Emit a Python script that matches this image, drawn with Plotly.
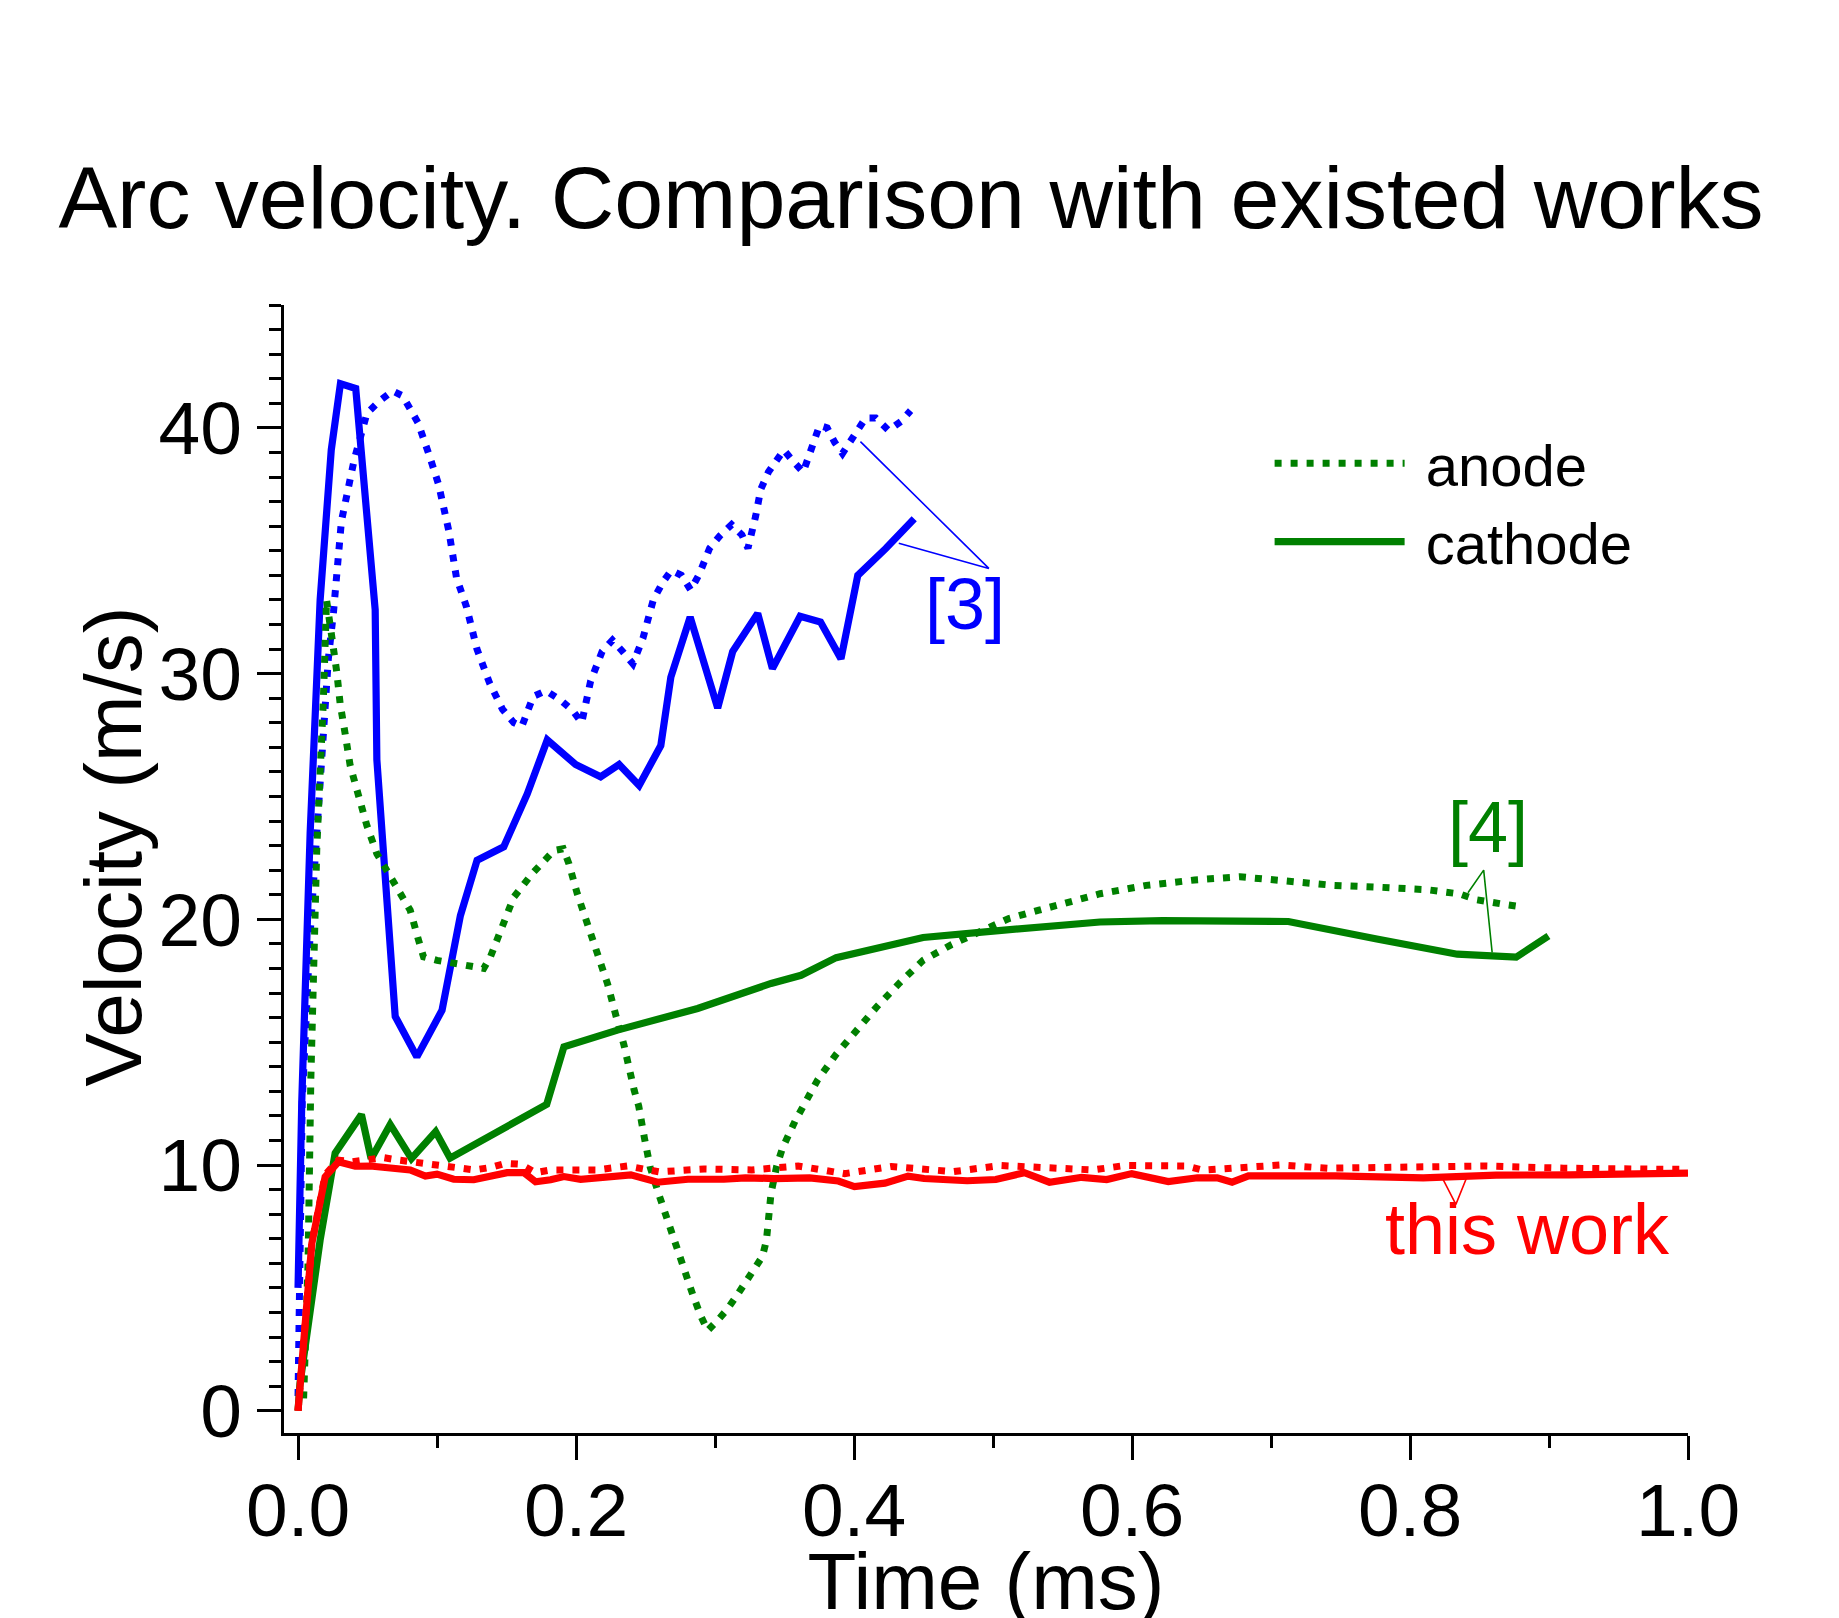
import plotly.graph_objects as go

# ---------------- data ----------------
# [3] cathode (blue solid)
t_b_cath = [0.0, 0.0027, 0.0087, 0.0159, 0.0239, 0.0305, 0.0415, 0.0555, 0.0567, 0.0699, 0.0855,
            0.1036, 0.1168, 0.1288, 0.148, 0.1649, 0.1793, 0.1997, 0.2177, 0.231, 0.2454, 0.261,
            0.2682, 0.2821, 0.3019, 0.3127, 0.3307, 0.3413, 0.3612, 0.3759, 0.3906, 0.4027, 0.423, 0.4433]
v_b_cath = [5.0, 12.6, 23.5, 33.0, 39.1, 41.8, 41.6, 32.6, 26.5, 16.05, 14.4,
            16.3, 20.15, 22.4, 22.95, 25.1, 27.3, 26.3, 25.8, 26.3, 25.45, 27.07,
            29.85, 32.3, 28.6, 30.9, 32.45, 30.2, 32.33, 32.1, 30.6, 34.0, 35.1, 36.3]

# [3] anode (blue dotted)
t_b_an = [0.0, 0.003, 0.0087, 0.0147, 0.0182, 0.0218, 0.0255, 0.0312, 0.0404, 0.0496, 0.0588, 0.068,
          0.0753, 0.0864, 0.0949, 0.1011, 0.1085, 0.114, 0.1213, 0.1287, 0.1379, 0.1471, 0.1552,
          0.161, 0.1692, 0.1784, 0.1894, 0.1975, 0.2041, 0.2105, 0.2188, 0.2262, 0.2335, 0.2409,
          0.2482, 0.2556, 0.2622, 0.2685, 0.2758, 0.2825, 0.2887, 0.2961, 0.3034, 0.3119, 0.3193,
          0.3237, 0.3292, 0.3329, 0.3384, 0.3495, 0.3568, 0.3634, 0.3678, 0.3752, 0.3807, 0.3862,
          0.3917, 0.3972, 0.4083, 0.4156, 0.4248, 0.434, 0.4407]
v_b_an = [0.6, 12.6, 19.4, 24.8, 28.1, 30.6, 32.5, 36.2, 38.7, 40.6, 41.1, 41.5,
          41.3, 40.2, 38.8, 37.7, 35.8, 33.9, 32.7, 31.0, 29.6, 28.55, 28.0,
          27.85, 29.07, 29.3, 28.9, 28.5, 28.0, 29.7, 30.9, 31.36, 30.9, 30.4,
          31.45, 33.0, 33.7, 34.2, 34.0, 33.4, 34.05, 35.1, 35.6, 36.06, 35.65,
          35.1, 36.4, 37.5, 38.2, 39.1, 38.6, 38.2, 38.9, 40.1, 40.0, 39.4,
          38.96, 39.4, 40.4, 40.4, 39.9, 40.27, 40.7]

# [4] anode (green dotted)
t_g_an = [0.004, 0.0072, 0.0092, 0.011, 0.0135, 0.0182, 0.0205, 0.0279, 0.0303, 0.0339, 0.0375,
          0.0435, 0.0495, 0.0567, 0.0687, 0.0807, 0.0867, 0.0903, 0.1, 0.1228, 0.1336, 0.1384,
          0.1469, 0.1552, 0.1685, 0.1841, 0.1908, 0.1949, 0.2009, 0.2081, 0.2154, 0.2226, 0.2286,
          0.2345, 0.2418, 0.2451, 0.2492, 0.2534, 0.2596, 0.2657, 0.272, 0.2782, 0.2844, 0.2898,
          0.2947, 0.3022, 0.3084, 0.3154, 0.3216, 0.3279, 0.3341, 0.337, 0.3383, 0.3403, 0.3444,
          0.3486, 0.3577, 0.3632, 0.374, 0.3872, 0.4016, 0.4167, 0.4328, 0.4497, 0.4701, 0.4905,
          0.5114, 0.533, 0.5554, 0.577, 0.6103, 0.645, 0.6777, 0.7125, 0.7453, 0.78, 0.8128,
          0.836, 0.8475, 0.8688, 0.8823]
v_g_an = [0.5, 6.0, 13.5, 18.0, 22.9, 28.9, 33.0, 30.05, 28.77, 27.55, 26.26,
          25.04, 23.82, 22.67, 21.52, 20.37, 19.15, 18.47, 18.33, 18.06, 18.0, 18.47,
          19.69, 20.9, 21.86, 22.8, 22.87, 22.26, 21.04, 19.82, 18.6, 17.39, 16.1,
          14.88, 13.05, 12.4, 11.1, 9.9, 8.8, 7.75, 6.57, 5.7, 4.66, 3.85,
          3.26, 3.7, 4.1, 4.66, 5.17, 5.69, 6.28, 6.94, 7.6, 8.86, 9.96,
          10.7, 11.8, 12.37, 13.48, 14.51, 15.49, 16.46, 17.41, 18.33, 18.97, 19.51,
          20.03, 20.37, 20.7, 21.04, 21.38, 21.6, 21.73, 21.54, 21.38, 21.3, 21.2,
          21.03, 20.8, 20.6, 20.49]

# [4] cathode (green solid)
t_g_cath = [0.0, 0.0014, 0.0159, 0.0267, 0.0456, 0.0526, 0.0663, 0.0816, 0.099, 0.1094, 0.1789,
            0.1913, 0.2298, 0.2875, 0.3403, 0.3619, 0.3872, 0.4172, 0.4497, 0.5061, 0.577, 0.6218,
            0.6643, 0.7125, 0.7761, 0.834, 0.8764, 0.8996]
v_g_cath = [0.0, 1.1, 6.95, 10.48, 12.05, 10.26, 11.65, 10.26, 11.36, 10.28, 12.47,
            14.81, 15.49, 16.37, 17.39, 17.72, 18.44, 18.81, 19.26, 19.55, 19.89, 19.95,
            19.91, 19.91, 19.2, 18.58, 18.46, 19.32]

# this work, cathode (red solid)
t_r_cath = [0.0, 0.0099, 0.0195, 0.029, 0.0411, 0.0519, 0.0807, 0.0916, 0.1, 0.112, 0.1264, 0.1384,
            0.1504, 0.1625, 0.1709, 0.1817, 0.1913, 0.2033, 0.2166, 0.2394, 0.2587, 0.2805, 0.3063,
            0.3218, 0.3424, 0.3681, 0.3887, 0.4003, 0.4222, 0.4389, 0.4504, 0.4814, 0.502, 0.5226,
            0.5406, 0.5638, 0.5818, 0.5998, 0.6261, 0.647, 0.6613, 0.672, 0.6838, 0.7467, 0.8095,
            0.862, 0.9144, 1.0]
v_r_cath = [0.0, 6.8, 9.52, 10.13, 9.95, 9.96, 9.8, 9.55, 9.63, 9.42, 9.4, 9.53,
            9.69, 9.69, 9.32, 9.4, 9.53, 9.42, 9.5, 9.6, 9.3, 9.42, 9.42,
            9.48, 9.45, 9.48, 9.35, 9.12, 9.26, 9.55, 9.45, 9.36, 9.41, 9.69,
            9.3, 9.5, 9.41, 9.65, 9.33, 9.48, 9.48, 9.3, 9.56, 9.56, 9.48,
            9.59, 9.6, 9.67]

# this work, anode (red dotted)
t_r_an = [0.0, 0.0099, 0.0195, 0.029, 0.0387, 0.0615, 0.0723, 0.0928, 0.1043, 0.1156, 0.1269, 0.1384,
          0.1492, 0.16, 0.1709, 0.1817, 0.2045, 0.2149, 0.2368, 0.26, 0.2921, 0.3264, 0.3598,
          0.3933, 0.4268, 0.4716, 0.5051, 0.5386, 0.572, 0.5947, 0.6397, 0.651, 0.6733, 0.7068,
          0.7406, 0.797, 0.8536, 0.9105, 0.9668, 1.0]
v_r_an = [0.0, 6.8, 9.6, 10.2, 10.13, 10.3, 10.2, 10.04, 10.0, 9.86, 9.8, 9.9,
          10.07, 10.03, 9.69, 9.8, 9.84, 9.8, 9.96, 9.72, 9.84, 9.8, 9.96,
          9.65, 9.94, 9.73, 9.98, 9.86, 9.8, 9.98, 9.96, 9.79, 9.85, 10.0,
          9.87, 9.89, 9.96, 9.87, 9.87, 9.82]

# leader lines (end1, apex, end2) and labels
lead3_t = [0.4046, 0.497, 0.4322]
lead3_v = [39.44, 34.28, 35.3]
lead4_t = [0.8417, 0.853, 0.8591]
lead4_v = [21.08, 22.0, 18.65]
leadw_t = [0.8235, 0.833, 0.8405]
leadw_v = [9.45, 8.4, 9.45]

labels = ["[3]", "[4]", "this work"]
label_t = [0.480, 0.856, 0.8846]
label_v = [32.85, 23.74, 7.4]

x_tickvals = [0.0, 0.2, 0.4, 0.6, 0.8, 1.0]
x_ticktext = ["0.0", "0.2", "0.4", "0.6", "0.8", "1.0"]
x_minorvals = [0.1, 0.3, 0.5, 0.7, 0.9]
y_tickvals = [0, 10, 20, 30, 40]

BLUE = "#0000FF"
GREEN = "#008000"
RED = "#FF0000"
DOT = "7px,9px"
FONT = "Liberation Sans, Arial, sans-serif"
SOLID_W = 7.2
DOT_W = 7

fig = go.Figure()

fig.add_trace(go.Scatter(x=t_b_an, y=v_b_an, mode="lines", showlegend=False,
                         line=dict(color=BLUE, width=DOT_W, dash=DOT)))
fig.add_trace(go.Scatter(x=t_b_cath, y=v_b_cath, mode="lines", showlegend=False,
                         line=dict(color=BLUE, width=SOLID_W)))
fig.add_trace(go.Scatter(x=t_g_an, y=v_g_an, mode="lines", name="\u00a0anode",
                         line=dict(color=GREEN, width=DOT_W, dash=DOT)))
fig.add_trace(go.Scatter(x=t_g_cath, y=v_g_cath, mode="lines", name="\u00a0cathode",
                         line=dict(color=GREEN, width=SOLID_W)))
fig.add_trace(go.Scatter(x=t_r_an, y=v_r_an, mode="lines", showlegend=False,
                         line=dict(color=RED, width=DOT_W, dash=DOT)))
fig.add_trace(go.Scatter(x=t_r_cath, y=v_r_cath, mode="lines", showlegend=False,
                         line=dict(color=RED, width=SOLID_W)))

# leader lines
for lt, lv, col in [(lead3_t, lead3_v, BLUE), (lead4_t, lead4_v, GREEN), (leadw_t, leadw_v, RED)]:
    fig.add_trace(go.Scatter(x=lt, y=lv, mode="lines", showlegend=False, hoverinfo="skip",
                             line=dict(color=col, width=1.6)))

for txt, xt, yv, col in zip(labels, label_t, label_v, [BLUE, GREEN, RED]):
    fig.add_annotation(x=xt, y=yv, xref="x", yref="y", text=txt, showarrow=False,
                       font=dict(family=FONT, size=72, color=col),
                       xanchor="center", yanchor="middle")

# y-axis title (placed as rotated text, as in the reference)
fig.add_annotation(x=-0.1212, y=0.5197, xref="paper", yref="paper", text="Velocity (m/s)",
                   textangle=-90, showarrow=False, xanchor="center", yanchor="middle",
                   font=dict(family=FONT, size=80, color="black"))

axis_common = dict(showline=True, linewidth=3, linecolor="black", ticks="outside",
                   ticklen=24, tickwidth=3, tickcolor="black", showgrid=False, zeroline=False,
                   tickfont=dict(family=FONT, size=75, color="black"), mirror=False)

fig.update_xaxes(range=[-0.0101, 1.0], tickvals=x_tickvals, ticktext=x_ticktext,
                 minor=dict(tickvals=x_minorvals, ticklen=12, tickwidth=3,
                            tickcolor="black", ticks="outside"),
                 title=dict(text="Time (ms)", font=dict(family=FONT, size=80, color="black"),
                            standoff=62),
                 ticklabelstandoff=-14,
                 **axis_common)
fig.update_yaxes(range=[-0.906, 45], tickvals=y_tickvals,
                 minor=dict(dtick=1, tick0=0, ticklen=12, tickwidth=3, tickcolor="black",
                            ticks="outside"),
                 ticklabelstandoff=0,
                 **axis_common)

fig.update_layout(
    width=1839, height=1618,
    margin=dict(l=276, r=159, t=297, b=193, autoexpand=False),
    paper_bgcolor="white", plot_bgcolor="white",
    font=dict(family=FONT, color="black"),
    title=dict(text="Arc velocity. Comparison with existed works", x=0.491, xanchor="center",
               y=0.883, yanchor="middle", xref="container", yref="container",
               font=dict(family=FONT, size=88, color="black")),
    legend=dict(x=0.702, y=0.899, xanchor="left", yanchor="top", bgcolor="rgba(0,0,0,0)",
                font=dict(family=FONT, size=58, color="black"), itemwidth=130,
                tracegroupgap=0),
)

fig.write_html("out.html")
